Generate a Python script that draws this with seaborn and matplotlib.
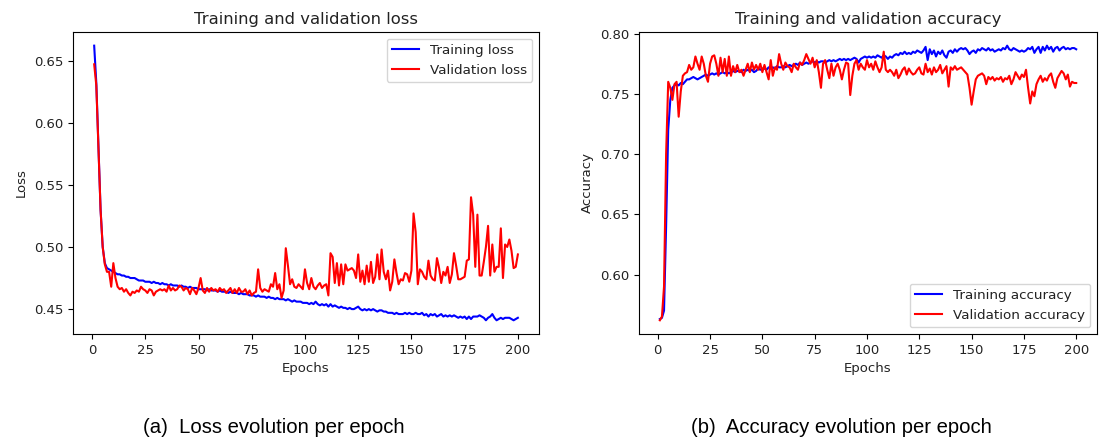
import numpy as np
import pandas as pd
import seaborn as sns
import matplotlib
matplotlib.use('Agg')
import matplotlib.pyplot as plt

epochs = list(range(1, 201))

train_loss = [
    0.662, 0.632, 0.580, 0.530, 0.500, 0.487, 0.483, 0.482, 0.481, 0.480,
    0.479, 0.478, 0.478, 0.477, 0.477, 0.476, 0.476, 0.475, 0.475, 0.475,
    0.474, 0.473, 0.473, 0.473, 0.472, 0.472, 0.472, 0.471, 0.472, 0.471,
    0.471, 0.470, 0.471, 0.470, 0.470, 0.469, 0.470, 0.469, 0.469, 0.469,
    0.468, 0.469, 0.468, 0.468, 0.467, 0.468, 0.467, 0.467, 0.467, 0.466,
    0.466, 0.466, 0.466, 0.465, 0.466, 0.465, 0.465, 0.465, 0.464, 0.465,
    0.464, 0.464, 0.464, 0.463, 0.464, 0.463, 0.463, 0.463, 0.462, 0.463,
    0.462, 0.462, 0.462, 0.461, 0.461, 0.461, 0.460, 0.461, 0.460, 0.460,
    0.460, 0.459, 0.460, 0.459, 0.459, 0.458, 0.459, 0.458, 0.458, 0.458,
    0.457, 0.458, 0.457, 0.456, 0.457, 0.456, 0.456, 0.456, 0.455, 0.455,
    0.455, 0.454, 0.455, 0.454, 0.456, 0.454, 0.453, 0.454, 0.453, 0.454,
    0.452, 0.454, 0.452, 0.453, 0.452, 0.451, 0.452, 0.451, 0.451, 0.450,
    0.451, 0.450, 0.450, 0.451, 0.452, 0.450, 0.449, 0.450, 0.449, 0.450,
    0.449, 0.450, 0.449, 0.448, 0.449, 0.449, 0.448, 0.448, 0.447, 0.447,
    0.447, 0.446, 0.447, 0.446, 0.446, 0.446, 0.447, 0.446, 0.447, 0.446,
    0.446, 0.447, 0.446, 0.446, 0.447, 0.445, 0.446, 0.444, 0.446, 0.445,
    0.446, 0.444, 0.445, 0.446, 0.444, 0.445, 0.444, 0.445, 0.444, 0.445,
    0.444, 0.443, 0.444, 0.443, 0.444, 0.442, 0.444, 0.442, 0.444, 0.444,
    0.444, 0.445, 0.444, 0.443, 0.441, 0.443, 0.444, 0.446, 0.443, 0.441,
    0.442, 0.443, 0.442, 0.443, 0.443, 0.443, 0.442, 0.441, 0.442, 0.443,
]

val_loss = [
    0.647, 0.630, 0.580, 0.530, 0.500, 0.486, 0.480, 0.480, 0.468, 0.487,
    0.475, 0.468, 0.466, 0.467, 0.464, 0.466, 0.463, 0.461, 0.464, 0.463,
    0.465, 0.464, 0.468, 0.466, 0.465, 0.463, 0.466, 0.465, 0.461, 0.464,
    0.465, 0.466, 0.465, 0.466, 0.464, 0.469, 0.465, 0.467, 0.465, 0.466,
    0.469, 0.468, 0.465, 0.467, 0.466, 0.462, 0.467, 0.465, 0.462, 0.467,
    0.475, 0.465, 0.463, 0.467, 0.464, 0.467, 0.465, 0.466, 0.464, 0.467,
    0.465, 0.466, 0.463, 0.465, 0.467, 0.463, 0.466, 0.463, 0.467, 0.464,
    0.464, 0.466, 0.462, 0.465, 0.461, 0.463, 0.464, 0.482, 0.467, 0.464,
    0.466, 0.465, 0.464, 0.470, 0.468, 0.479, 0.466, 0.470, 0.459, 0.465,
    0.499, 0.485, 0.470, 0.474, 0.468, 0.467, 0.470, 0.468, 0.466, 0.482,
    0.471, 0.466, 0.475, 0.468, 0.466, 0.469, 0.471, 0.467, 0.469, 0.470,
    0.461, 0.495, 0.492, 0.471, 0.487, 0.469, 0.486, 0.470, 0.486, 0.481,
    0.482, 0.483, 0.481, 0.475, 0.494, 0.472, 0.481, 0.470, 0.485, 0.472,
    0.488, 0.471, 0.476, 0.494, 0.474, 0.498, 0.480, 0.474, 0.481, 0.465,
    0.472, 0.490, 0.479, 0.470, 0.474, 0.473, 0.479, 0.478, 0.472, 0.481,
    0.527, 0.512, 0.470, 0.482, 0.480, 0.476, 0.474, 0.489, 0.477, 0.474,
    0.473, 0.491, 0.483, 0.471, 0.480, 0.477, 0.484, 0.471, 0.478, 0.495,
    0.485, 0.474, 0.474, 0.475, 0.476, 0.489, 0.490, 0.540, 0.526, 0.484,
    0.526, 0.477, 0.477, 0.488, 0.500, 0.517, 0.477, 0.502, 0.480, 0.484,
    0.484, 0.515, 0.475, 0.502, 0.500, 0.506, 0.497, 0.483, 0.484, 0.494,
]

train_acc = [
    0.563, 0.564, 0.570, 0.640, 0.720, 0.745, 0.755, 0.757, 0.758, 0.757,
    0.759, 0.758, 0.760, 0.762, 0.762, 0.763, 0.764, 0.763, 0.762, 0.763,
    0.764, 0.765, 0.766, 0.765, 0.766, 0.767, 0.766, 0.767, 0.766, 0.767,
    0.768, 0.767, 0.768, 0.767, 0.768, 0.769, 0.768, 0.769, 0.769, 0.768,
    0.770, 0.769, 0.770, 0.769, 0.770, 0.768, 0.769, 0.771, 0.770, 0.771,
    0.771, 0.770, 0.772, 0.771, 0.772, 0.771, 0.773, 0.772, 0.772, 0.773,
    0.772, 0.773, 0.774, 0.773, 0.774, 0.775, 0.774, 0.776, 0.774, 0.775,
    0.776, 0.775, 0.776, 0.777, 0.776, 0.777, 0.776, 0.777, 0.777, 0.776,
    0.777, 0.778, 0.777, 0.778, 0.777, 0.778, 0.779, 0.778, 0.779, 0.778,
    0.779, 0.778, 0.779, 0.780, 0.779, 0.776, 0.779, 0.780, 0.781, 0.780,
    0.781, 0.780, 0.781, 0.780, 0.782, 0.781, 0.780, 0.782, 0.781, 0.779,
    0.781, 0.780, 0.782, 0.783, 0.782, 0.784, 0.783, 0.785, 0.783, 0.784,
    0.783, 0.785, 0.784, 0.786, 0.785, 0.784, 0.786, 0.789, 0.778, 0.787,
    0.783, 0.786, 0.781, 0.785, 0.783, 0.786, 0.782, 0.780, 0.785, 0.786,
    0.784, 0.787, 0.785, 0.787, 0.788, 0.787, 0.788, 0.786, 0.783, 0.785,
    0.786, 0.784, 0.787, 0.786, 0.788, 0.787, 0.786, 0.788, 0.786, 0.787,
    0.785, 0.786, 0.787, 0.786, 0.788, 0.787, 0.790, 0.787, 0.786, 0.788,
    0.787, 0.786, 0.785, 0.786, 0.785, 0.786, 0.788, 0.787, 0.789, 0.784,
    0.787, 0.789, 0.784, 0.789, 0.786, 0.790, 0.787, 0.789, 0.785, 0.788,
    0.789, 0.786, 0.788, 0.789, 0.787, 0.788, 0.787, 0.788, 0.788, 0.787,
]

val_acc = [
    0.562, 0.565, 0.590, 0.700, 0.760, 0.755, 0.745, 0.758, 0.760, 0.731,
    0.752, 0.765, 0.767, 0.768, 0.774, 0.770, 0.772, 0.781, 0.775, 0.770,
    0.781, 0.775, 0.765, 0.760, 0.775, 0.781, 0.782, 0.775, 0.765, 0.780,
    0.768, 0.779, 0.765, 0.781, 0.765, 0.773, 0.768, 0.774, 0.768, 0.770,
    0.765, 0.770, 0.775, 0.768, 0.776, 0.770, 0.774, 0.770, 0.775, 0.768,
    0.774, 0.768, 0.762, 0.778, 0.765, 0.772, 0.770, 0.783, 0.775, 0.770,
    0.776, 0.773, 0.772, 0.768, 0.775, 0.772, 0.770, 0.776, 0.774, 0.778,
    0.783, 0.779, 0.775, 0.780, 0.772, 0.778, 0.768, 0.755, 0.775, 0.778,
    0.770, 0.763, 0.775, 0.765, 0.772, 0.775, 0.770, 0.762, 0.770, 0.776,
    0.775, 0.749, 0.765, 0.775, 0.778, 0.770, 0.775, 0.772, 0.770, 0.778,
    0.772, 0.775, 0.770, 0.777, 0.772, 0.768, 0.772, 0.785, 0.770, 0.768,
    0.770, 0.768, 0.765, 0.770, 0.763, 0.766, 0.770, 0.772, 0.766, 0.771,
    0.768, 0.766, 0.767, 0.770, 0.772, 0.767, 0.766, 0.775, 0.768, 0.771,
    0.766, 0.772, 0.768, 0.770, 0.774, 0.767, 0.770, 0.773, 0.756, 0.772,
    0.770, 0.773, 0.770, 0.771, 0.772, 0.770, 0.768, 0.766, 0.755, 0.741,
    0.752, 0.762, 0.765, 0.766, 0.767, 0.765, 0.758, 0.764, 0.762, 0.764,
    0.761, 0.763, 0.762, 0.764, 0.760, 0.763, 0.762, 0.765, 0.758, 0.762,
    0.768, 0.765, 0.762, 0.766, 0.764, 0.770, 0.755, 0.742, 0.752, 0.748,
    0.758, 0.762, 0.765, 0.760, 0.763, 0.761, 0.765, 0.767, 0.760, 0.755,
    0.763, 0.766, 0.769, 0.767, 0.762, 0.766, 0.756, 0.760, 0.759, 0.759,
]

panels = [
    ('Training and validation loss', 'Loss', train_loss, val_loss,
     'Training loss', 'Validation loss', 'upper right'),
    ('Training and validation accuracy', 'Accuracy', train_acc, val_acc,
     'Training accuracy', 'Validation accuracy', 'lower right'),
]
captions = ['(a)  Loss evolution per epoch', '(b)  Accuracy evolution per epoch']


def main():
    plt.rcParams['font.family'] = 'DejaVu Sans'
    plt.rcParams['text.color'] = '#222222'
    plt.rcParams['xtick.labelcolor'] = '#222222'
    plt.rcParams['ytick.labelcolor'] = '#222222'
    plt.rcParams['axes.labelcolor'] = '#222222'
    fig = plt.figure(figsize=(11.01, 4.41), dpi=100)
    rects = [[0.0663, 0.2426, 0.4233, 0.685], [0.5804, 0.2426, 0.4160, 0.685]]

    for rect, panel in zip(rects, panels):
        title, ylabel, tr, va, tr_lab, va_lab, loc = panel
        ax = fig.add_axes(rect)
        data = pd.DataFrame({'epoch': epochs, 'train': tr, 'val': va})
        sns.lineplot(data=data, x='epoch', y='train', color='b', label=tr_lab, ax=ax, linewidth=1.5)
        sns.lineplot(data=data, x='epoch', y='val', color='r', label=va_lab, ax=ax, linewidth=1.5)
        ax.set_title(title, fontsize=11.8)
        ax.set_xlabel('Epochs', fontsize=9.5)
        ax.set_ylabel(ylabel, fontsize=9.5)
        ax.tick_params(labelsize=9.5)
        ax.set_xticks([0, 25, 50, 75, 100, 125, 150, 175, 200])
        ax.legend(loc=loc, fontsize=9.7)

    fig.text(0.249, 0.03, captions[0], ha='center', va='center',
             fontsize=14.6, family='Liberation Sans', color='black')
    fig.text(0.764, 0.03, captions[1], ha='center', va='center',
             fontsize=14.6, family='Liberation Sans', color='black')
    fig.savefig('out.png', dpi=100)


if __name__ == '__main__':
    main()
